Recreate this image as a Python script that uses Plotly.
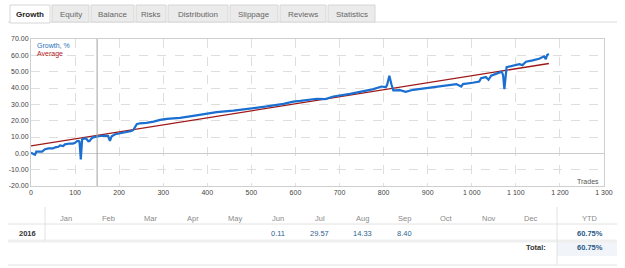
import plotly.graph_objects as go

# ---------------- data ----------------
trades = [0, 9, 12, 25, 32, 40, 50, 55, 62, 66, 73, 77, 88, 95, 100, 104, 108, 110, 113, 116,
          120, 125, 130, 133, 137, 141, 149, 157, 172, 175, 179, 183, 191, 202, 217, 228, 232,
          236, 240, 247, 262, 278, 293, 308, 338, 368, 399, 421, 459, 497, 535, 573, 595, 611,
          649, 668, 686, 724, 754, 777, 795, 805, 808, 813, 818, 822, 837, 850, 867, 897, 927,
          965, 976, 980, 1002, 1017, 1021, 1032, 1038, 1044, 1059, 1068, 1071, 1074, 1079, 1092,
          1108, 1115, 1123, 1138, 1153, 1164, 1168, 1171, 1175]
growth = [0.4, -0.8, 1.0, 1.0, 2.5, 3.0, 3.0, 3.7, 4.0, 4.9, 4.5, 5.5, 6.0, 6.0, 6.5, 7.4, 7.6,
          7.2, -3.7, 8.6, 9.0, 9.2, 7.4, 7.6, 9.0, 9.8, 10.2, 10.6, 10.8, 10.6, 7.6, 10.4, 11.7,
          12.3, 12.9, 13.7, 14.3, 16.4, 17.8, 18.4, 18.6, 19.4, 20.5, 21.1, 21.7, 22.9, 24.1,
          25.2, 26.2, 27.4, 28.7, 30.3, 31.7, 32.1, 33.4, 33.2, 34.8, 36.4, 37.9, 39.3, 40.9,
          40.5, 42.0, 47.5, 42.0, 38.5, 38.7, 37.7, 38.9, 39.9, 41.3, 42.4, 40.9, 42.4, 43.2,
          44.0, 46.0, 46.7, 45.0, 47.5, 49.1, 49.9, 48.0, 39.3, 52.8, 53.6, 54.6, 54.0, 56.1,
          56.9, 57.9, 59.4, 57.7, 60.2, 60.8]
avg_trades = [0, 1175]
avg_values = [4.5, 55.0]
start_trade = 150

x_tickvals = [0, 100, 200, 300, 400, 500, 600, 700, 800, 900, 1000, 1100, 1200, 1300]
x_ticktext = ["0", "100", "200", "300", "400", "500", "600", "700", "800", "900",
              "1 000", "1 100", "1 200", "1 300"]
y_tickvals = [-20, -10, 0, 10, 20, 30, 40, 50, 60, 70]
y_ticktext = ["-20.00", "-10.00", "0.00", "10.00", "20.00", "30.00", "40.00", "50.00",
              "60.00", "70.00"]

tabs = ["Growth", "Equity", "Balance", "Risks", "Distribution", "Slippage", "Reviews", "Statistics"]
months = ["Jan", "Feb", "Mar", "Apr", "May", "Jun", "Jul", "Aug", "Sep", "Oct", "Nov", "Dec"]
year = "2016"
month_values = ["", "", "", "", "", "0.11", "29.57", "14.33", "8.40", "", "", ""]
ytd = "60.75%"
total = "60.75%"

# ---------------- layout helpers ----------------
FW, FH = 625, 268
L, T, R, B = 31, 39, 604, 186
W, H = R - L, B - T


def px(x):
    return (x - L) / W


def py(y):
    return (B - y) / H


FONT = "Liberation Sans"
BLUE = "#1a6fd0"
RED = "#a01818"

fig = go.Figure()
fig.add_trace(go.Scatter(x=avg_trades, y=avg_values, mode="lines",
                         line=dict(color=RED, width=1.3), hoverinfo="skip", showlegend=False))
fig.add_trace(go.Scatter(x=trades, y=growth, mode="lines",
                         line=dict(color=BLUE, width=2.2), showlegend=False))

shapes = []
annotations = []

# start marker
shapes.append(dict(type="line", xref="x", yref="paper", x0=start_trade, x1=start_trade,
                   y0=0, y1=1, line=dict(color="#a0a0a0", width=1)))


def txt(x, y, text, size=7.5, color="#444", anchor="center"):
    annotations.append(dict(xref="paper", yref="paper", x=px(x), y=py(y), text=text,
                            showarrow=False, xanchor=anchor, yanchor="middle",
                            font=dict(family=FONT, size=size, color=color)))


# legend texts
txt(35, 45, "Growth, %", 7, "#2c6fb5", "left")
txt(35, 54, "Average", 7, "#b02020", "left")
txt(601, 181, "Trades", 7, "#555", "right")

# tabs
tab_edges = [(10, 50), (52, 89), (91, 134), (136, 166), (168, 228), (230, 278), (280, 326), (328, 375)]
tab_top, tab_bot = 5, 22
shapes.append(dict(type="line", xref="paper", yref="paper", x0=px(8), x1=px(617),
                   y0=py(tab_bot), y1=py(tab_bot), line=dict(color="#dcdcdc", width=1)))
for i, (name, (a, b)) in enumerate(zip(tabs, tab_edges)):
    active = i == 0
    shapes.append(dict(type="rect", xref="paper", yref="paper", x0=px(a), x1=px(b),
                       y0=py(tab_bot + (1 if active else 0)), y1=py(tab_top),
                       fillcolor="#ffffff" if active else "#ebebeb",
                       line=dict(color="#d6d6d6", width=1)))
    txt((a + b) / 2, 14, "<b>" + name + "</b>" if active else name, 8,
        "#222" if active else "#666")

# table
col_x = [66 + i * 42.3 for i in range(12)]
ytd_x = 590
hdr_y, row_y, tot_y = 218, 233, 247
shapes.append(dict(type="line", xref="paper", yref="paper", x0=px(8), x1=px(617),
                   y0=py(224), y1=py(224), line=dict(color="#e2e2e2", width=1)))
shapes.append(dict(type="line", xref="paper", yref="paper", x0=px(8), x1=px(617),
                   y0=py(241), y1=py(241), line=dict(color="#efefef", width=3)))
shapes.append(dict(type="line", xref="paper", yref="paper", x0=px(8), x1=px(617),
                   y0=py(265), y1=py(265), line=dict(color="#e2e2e2", width=1)))
shapes.append(dict(type="rect", xref="paper", yref="paper", x0=px(557), x1=px(617),
                   y0=py(256), y1=py(242), fillcolor="#f1f4f8", line=dict(width=0), layer="below"))
shapes.append(dict(type="line", xref="paper", yref="paper", x0=px(45), x1=px(45),
                   y0=py(241), y1=py(207), line=dict(color="#e2e2e2", width=1)))
shapes.append(dict(type="line", xref="paper", yref="paper", x0=px(557), x1=px(557),
                   y0=py(265), y1=py(207), line=dict(color="#e2e2e2", width=1)))

for m, v, cx in zip(months, month_values, col_x):
    txt(cx, hdr_y, m, 7.5, "#8a8a8a")
    if v:
        txt(cx, row_y, v, 7.5, "#2f5f8f")
txt(ytd_x, hdr_y, "YTD", 7.5, "#8a8a8a")
txt(27, row_y, "<b>" + year + "</b>", 7.5, "#333")
txt(ytd_x, row_y, "<b>" + ytd + "</b>", 7.5, "#2a5a88")
txt(548, tot_y, "<b>Total:</b>", 7.5, "#333", "right")
txt(ytd_x, tot_y, "<b>" + total + "</b>", 7.5, "#2a5a88")

fig.update_layout(
    width=FW, height=FH,
    margin=dict(l=L, r=FW - R, t=T, b=FH - B, pad=0, autoexpand=False),
    paper_bgcolor="white", plot_bgcolor="white",
    showlegend=False,
    shapes=shapes, annotations=annotations,
    xaxis=dict(range=[0, 1300], tickvals=x_tickvals, ticktext=x_ticktext, automargin=False,
               showgrid=True, gridcolor="#dedede", griddash="dash", gridwidth=1,
               zeroline=False, showline=True, linecolor="#cfcfcf", mirror=True,
               ticks="", ticklen=0, tickfont=dict(family=FONT, size=7, color="#444")),
    yaxis=dict(range=[-20, 70], tickvals=y_tickvals, ticktext=y_ticktext, automargin=False,
               showgrid=True, gridcolor="#dedede", griddash="dash", gridwidth=1,
               zeroline=True, zerolinecolor="#cccccc", zerolinewidth=1,
               showline=True, linecolor="#cfcfcf", mirror=True,
               ticks="", ticklen=0, tickfont=dict(family=FONT, size=7, color="#444")),
    hovermode=False,
)

fig.write_html("out.html")
